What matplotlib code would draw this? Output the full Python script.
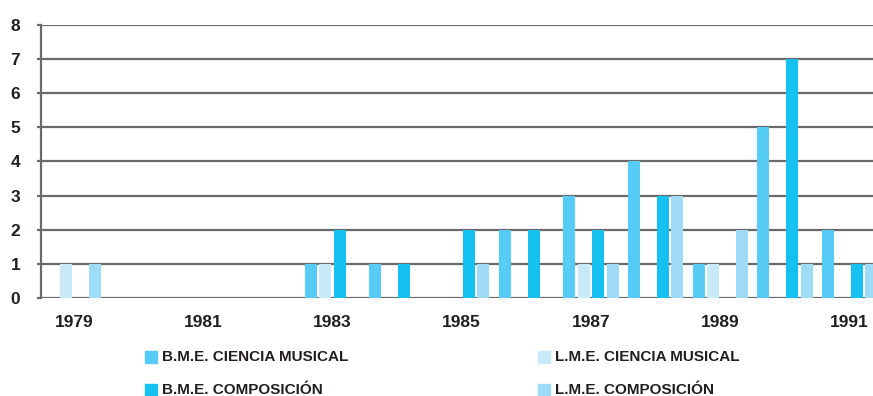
import matplotlib
matplotlib.use("Agg")
import matplotlib.pyplot as plt
from matplotlib.patches import Rectangle
import numpy as np

years = list(range(1979, 1992))
series = ["B.M.E. CIENCIA MUSICAL", "L.M.E. CIENCIA MUSICAL",
          "B.M.E. COMPOSICIÓN", "L.M.E. COMPOSICIÓN"]
colors = ["#56CBF5", "#C7E9F8", "#14C1F1", "#9EDBF5"]

#              79 80 81 82 83 84 85 86 87 88 89 90 91
bme_ciencia = [0, 0, 0, 0, 1, 1, 0, 2, 3, 4, 1, 5, 2]
lme_ciencia = [1, 0, 0, 0, 1, 0, 0, 0, 1, 0, 1, 0, 0]
bme_comp    = [0, 0, 0, 0, 2, 1, 2, 2, 2, 3, 0, 7, 1]
lme_comp    = [1, 0, 0, 0, 0, 0, 1, 0, 1, 3, 2, 1, 1]
values = [bme_ciencia, lme_ciencia, bme_comp, lme_comp]

plt.rcParams['font.family'] = ['Liberation Sans', 'DejaVu Sans']
plt.rcParams['font.weight'] = 'bold'

W, H = 873, 396
fig = plt.figure(figsize=(W / 100, H / 100), dpi=100)
# axes runs slightly past the right edge, so the last group is cut off
ax = fig.add_axes([41 / W, 98 / H, 841 / W, 273 / H])

step = 0.2242
width = 0.186
x = np.array(years, dtype=float)
for k in range(4):
    ax.bar(x + (k - 1.5) * step, values[k], width=width, color=colors[k],
           zorder=3, linewidth=0)

ax.set_xlim(1978.494, 1991.5)
ax.set_ylim(0, 8)
ax.set_yticks(range(0, 9))
ax.set_xticks(years[::2])
ax.set_xticklabels([str(y) for y in years[::2]])
ax.yaxis.grid(True, color="#6a6a6a", linewidth=1.6, zorder=1)
ax.set_axisbelow(True)

for side in ["top", "right", "bottom"]:
    ax.spines[side].set_visible(False)
ax.spines["left"].set_color("#6a6a6a")
ax.spines["left"].set_linewidth(1.6)

ax.tick_params(axis="y", length=3, width=1.6, color="#6a6a6a", pad=12,
               labelsize=12.5, labelcolor="#231f20")
ax.tick_params(axis="x", length=0, pad=12, labelsize=12.5, labelcolor="#231f20")

# legend, two columns by two rows
legend_pos = [(145, 357), (538, 357), (145, 390), (538, 390)]
for k, (px, py) in enumerate(legend_pos):
    fig.patches.append(Rectangle((px / W, 1 - (py + 6) / H), 12 / W, 12 / H,
                                 transform=fig.transFigure, color=colors[k]))
    fig.text((px + 17) / W, 1 - py / H, series[k], fontsize=11,
             fontweight="bold", color="#231f20", va="center", ha="left")

fig.savefig("out.png", dpi=100)
